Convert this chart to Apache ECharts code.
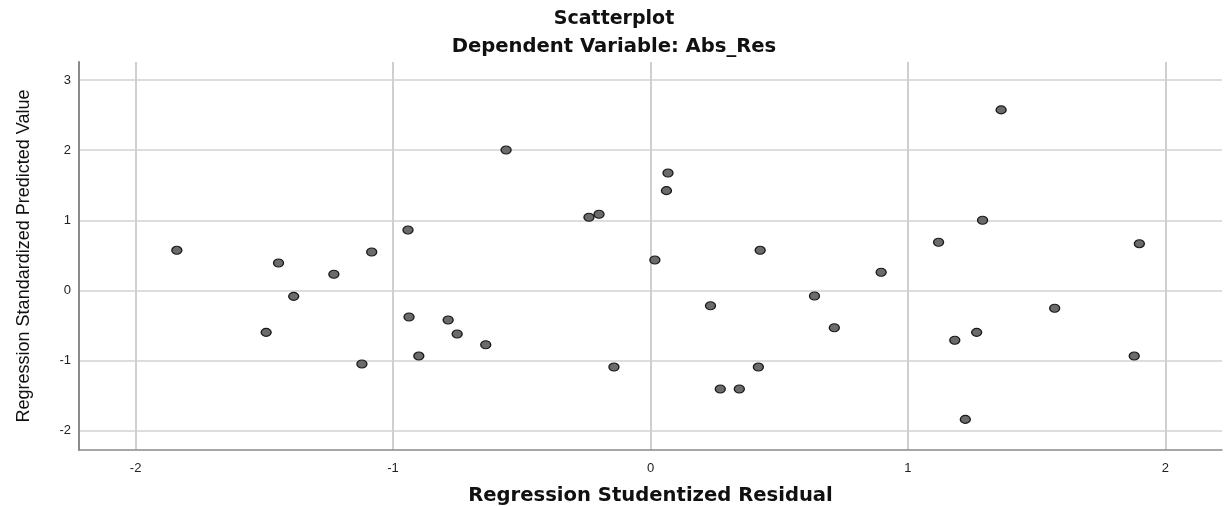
<!DOCTYPE html>
<html>
<head>
<meta charset="utf-8">
<script src="https://cdn.jsdelivr.net/npm/echarts@6/dist/echarts.min.js"></script>
<style>
html,body{margin:0;padding:0;background:#fff;}
#chart{width:1228px;height:506px;}
</style>
</head>
<body>
<div id="chart"></div>
<script>
// Regression Studentized Residual (x) and Regression Standardized Predicted Value (y)
var residual = [-1.840,-1.445,-1.230,-1.386,-1.493,-1.121,-1.083,-0.942,-0.938,-0.900,
  -0.786,-0.751,-0.640,-0.561,-0.239,-0.200,-0.142,0.017,0.068,0.062,
  0.233,0.271,0.345,0.426,0.419,0.637,0.714,0.896,1.119,1.182,
  1.223,1.267,1.290,1.362,1.570,1.899,1.879];
var predicted = [0.571,0.390,0.229,-0.086,-0.600,-1.053,0.547,0.861,-0.381,-0.939,
  -0.424,-0.624,-0.777,2.004,1.043,1.086,-1.096,0.433,1.676,1.423,
  -0.220,-1.410,-1.410,0.571,-1.096,-0.081,-0.534,0.257,0.686,-0.714,
  -1.843,-0.600,1.000,2.576,-0.257,0.666,-0.939];
var xTicks = [-2,-1,0,1,2];
var yTicks = [-2,-1,0,1,2,3];
var titleText = 'Scatterplot';
var subtitleText = 'Dependent Variable: Abs_Res';
var xName = 'Regression Studentized Residual';
var yName = 'Regression Standardized Predicted Value';

var points = residual.map(function(x,i){return [x, predicted[i]];});

var chart = echarts.init(document.getElementById('chart'), null, {renderer:'canvas'});
chart.setOption({
  animation:false,
  backgroundColor:'#ffffff',
  title:[
    {text:titleText,left:'center',top:5,textStyle:{fontFamily:'DejaVu Sans',fontWeight:'bold',fontSize:19,color:'#111'}},
    {text:subtitleText,left:'center',top:32,textStyle:{fontFamily:'DejaVu Sans',fontWeight:'bold',fontSize:19.6,color:'#111'}}
  ],
  grid:{left:79,right:6,top:62,bottom:56,containLabel:false,outerBoundsMode:'none'},
  xAxis:{
    type:'value',min:-2.22,max:2.22,
    name:xName,nameLocation:'middle',nameGap:36,
    nameTextStyle:{fontFamily:'DejaVu Sans',fontWeight:'bold',fontSize:19.6,color:'#111'},
    axisLine:{show:true,onZero:false,lineStyle:{color:'#8a8a8a',width:1.5}},
    axisTick:{show:false,customValues:xTicks},
    axisLabel:{customValues:xTicks,margin:12,fontFamily:'Liberation Sans',fontSize:13,color:'#222'},
    splitLine:{show:true,lineStyle:{color:'#cfcfcf',width:2}}
  },
  yAxis:{
    type:'value',min:-2.28,max:3.26,
    name:yName,nameLocation:'middle',nameGap:46,nameRotate:90,
    nameTextStyle:{fontFamily:'Liberation Sans',fontSize:18,color:'#111'},
    axisLine:{show:true,onZero:false,lineStyle:{color:'#8a8a8a',width:2}},
    axisTick:{show:false,customValues:yTicks},
    axisLabel:{customValues:yTicks,margin:8,fontFamily:'Liberation Sans',fontSize:13,color:'#222'},
    splitLine:{show:true,lineStyle:{color:'#d2d2d2',width:1.5}}
  },
  series:[{
    type:'scatter',
    data:points,
    symbol:'circle',
    symbolSize:[10,8],
    itemStyle:{color:'#6b6b6b',borderColor:'#1a1a1a',borderWidth:1.2,opacity:1}
  }]
});
</script>
</body>
</html>
